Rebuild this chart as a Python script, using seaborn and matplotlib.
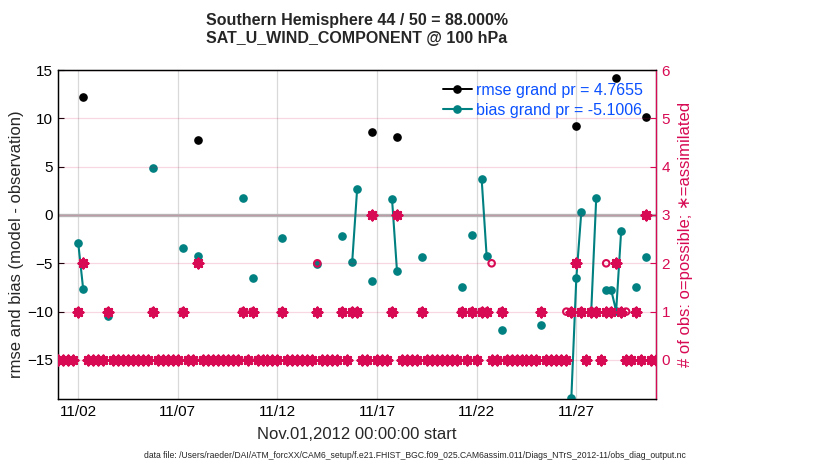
import numpy as np
import pandas as pd
import matplotlib
matplotlib.use("Agg")
import matplotlib.pyplot as plt
import matplotlib.dates as mdates
import seaborn as sns

# ---------------- data ----------------
obs_times = ["2012-11-02 00:00", "2012-11-02 06:00", "2012-11-03 12:00", "2012-11-05 18:00",
             "2012-11-07 06:00", "2012-11-08 00:00", "2012-11-10 06:00", "2012-11-10 18:00",
             "2012-11-12 06:00", "2012-11-14 00:00", "2012-11-15 06:00", "2012-11-15 18:00",
             "2012-11-16 00:00", "2012-11-16 18:00", "2012-11-17 18:00", "2012-11-18 00:00",
             "2012-11-19 06:00", "2012-11-21 06:00", "2012-11-21 18:00", "2012-11-22 06:00",
             "2012-11-22 12:00", "2012-11-22 18:00", "2012-11-23 06:00", "2012-11-25 06:00",
             "2012-11-26 12:00", "2012-11-26 18:00", "2012-11-27 00:00", "2012-11-27 06:00",
             "2012-11-27 18:00", "2012-11-28 00:00", "2012-11-28 12:00", "2012-11-28 18:00",
             "2012-11-29 00:00", "2012-11-29 06:00", "2012-11-29 12:00", "2012-11-30 00:00",
             "2012-11-30 12:00"]
n_possible = [1, 2, 1, 1, 1, 2, 1, 1, 1, 2, 1, 1, 1, 3, 1, 3, 1, 1, 1, 1, 1, 2, 1, 1,
              1, 1, 2, 1, 1, 1, 2, 1, 2, 1, 1, 1, 3]
n_used = [1, 2, 1, 1, 1, 2, 1, 1, 1, 1, 1, 1, 1, 3, 1, 3, 1, 1, 1, 1, 1, 0, 1, 1,
          0, 1, 2, 1, 1, 1, 1, 1, 2, 1, 0, 1, 3]
nan = np.nan
bias = [-2.9, -7.69, -10.4, 4.83, -3.45, -4.27, 1.72, -6.55, -2.41, -5.1, -2.17, -4.9,
        2.69, -6.86, 1.66, -5.8, -4.38, -7.48, -2.1, 3.69, -4.27, nan, -11.9, -11.38,
        nan, -18.97, -6.55, 0.28, -9.93, 1.76, -7.76, -7.76, -9.93, -1.7, nan, -7.41, -4.38]
rmse = [nan, 12.17, nan, nan, nan, 7.72, nan, nan, nan, nan, nan, nan,
        nan, 8.59, nan, 8.04, nan, nan, nan, nan, nan, nan, nan, nan,
        nan, nan, 9.24, nan, nan, nan, nan, nan, 14.14, nan, nan, nan, 10.17]

start_time = "2012-11-01 00:00"
end_time = "2012-12-01 00:00"
tick_dates = ["2012-11-02", "2012-11-07", "2012-11-12", "2012-11-17", "2012-11-22", "2012-11-27"]
left_ticks = [-15, -10, -5, 0, 5, 10, 15]
right_ticks = [0, 1, 2, 3, 4, 5, 6]

rmse_label = "rmse grand pr = 4.7655"
bias_label = "bias grand pr = -5.1006"
title1 = "Southern Hemisphere 44 / 50 = 88.000%"
title2 = "SAT_U_WIND_COMPONENT @ 100 hPa"
ylabel_left = "rmse and bias (model - observation)"
ylabel_right = "# of obs: o=possible; \u2217=assimilated"
xlabel = "Nov.01,2012 00:00:00 start"
datafile = ("data file: /Users/raeder/DAI/ATM_forcXX/CAM6_setup/f.e21.FHIST_BGC.f09_025."
            "CAM6assim.011/Diags_NTrS_2012-11/obs_diag_output.nc")

# ---------------- table ----------------
bins = pd.date_range(start_time, end_time, freq="6h")
obs = pd.DataFrame({"nposs": n_possible, "nused": n_used, "bias": bias, "rmse": rmse},
                   index=pd.to_datetime(obs_times))
df = pd.DataFrame(index=bins)
df = df.join(obs)
df["nposs"] = df["nposs"].fillna(0)
df["nused"] = df["nused"].fillna(0)
df = df.reset_index().rename(columns={"index": "time"})

# ---------------- style ----------------
sns.set_style("white")
plt.rcParams["font.family"] = ["Liberation Sans", "DejaVu Sans"]

TEAL = "#008080"
CRIM = "#D70A53"
BLUE = "#0a50ff"

W, H = 830, 470
AX_L, AX_R, AX_T, AX_B = 58.3, 656.0, 70.0, 399.3
fig = plt.figure(figsize=(8.3, 4.7), dpi=100)
ax = fig.add_axes([AX_L / W, 1 - AX_B / H, (AX_R - AX_L) / W, (AX_B - AX_T) / H])

ylo, yhi = -19.07, 15.0
ax.set_ylim(ylo, yhi)
ax.set_xlim(pd.Timestamp(start_time), pd.Timestamp(end_time))

ax.axhline(0, color="#b8b8b8", lw=2.4, zorder=1)

h_rmse, = ax.plot(df["time"], df["rmse"], color="black", marker="o", ms=5.2, lw=1.4,
                  label=rmse_label, zorder=3)
h_bias, = ax.plot(df["time"], df["bias"], color=TEAL, marker="o", ms=5.2, lw=1.5,
                  label=bias_label, zorder=3)

ax.set_xticks(pd.to_datetime(tick_dates))
ax.xaxis.set_major_formatter(mdates.DateFormatter("%m/%d"))
ax.set_yticks(left_ticks)
ax.tick_params(axis="both", direction="in", length=4, labelsize=11, colors="black", pad=4)
ax.grid(axis="x", color="#d9d9d9", lw=0.9)
ax.grid(axis="y", visible=False)
for s in ax.spines.values():
    s.set_color("black")
    s.set_linewidth(0.9)

ax.set_ylabel(ylabel_left, fontsize=12)
ax.yaxis.set_label_coords((24 - AX_L) / (AX_R - AX_L), 0.47)
ax.set_xlabel(xlabel, fontsize=12)
ax.xaxis.set_label_coords(0.5, -(427 - AX_B) / (AX_B - AX_T))

# ---------------- counts on right axis ----------------
ax2 = ax.twinx()
ax2.set_ylim((ylo + 15) / 5, (yhi + 15) / 5)
sns.scatterplot(data=df, x="time", y="nposs", ax=ax2, marker="o", s=22,
                facecolor="none", edgecolor=CRIM, linewidth=1.5, zorder=4, legend=False)
sns.scatterplot(data=df, x="time", y="nused", ax=ax2, marker=(8, 2, 0), s=44,
                color=CRIM, linewidth=2.0, zorder=5, legend=False)
ax2.set_xlim(pd.Timestamp(start_time), pd.Timestamp(end_time))
ax2.set_yticks(right_ticks)
ax2.tick_params(axis="y", direction="in", length=4, labelsize=11, colors=CRIM, pad=4)
ax2.grid(axis="y", color=CRIM, alpha=0.16, lw=0.9)
ax2.grid(axis="x", visible=False)
for k in ("left", "top", "bottom"):
    ax2.spines[k].set_color("black")
    ax2.spines[k].set_linewidth(0.9)
ax2.spines["right"].set_color(CRIM)
ax2.spines["right"].set_linewidth(0.9)
ax2.set_xlabel("")
ax2.set_ylabel(ylabel_right, fontsize=12, color=CRIM, rotation=90)
ax2.yaxis.set_label_coords((678 - AX_L) / (AX_R - AX_L), 0.5)

# ---------------- legend (on top axes) ----------------
leg = ax2.legend([h_rmse, h_bias], [rmse_label, bias_label],
                 loc="upper left", bbox_to_anchor=(443 / W, 1 - 83 / H),
                 bbox_transform=fig.transFigure, frameon=False, fontsize=11.5,
                 handlelength=1.8, handletextpad=0.25, labelspacing=0.3,
                 borderpad=0, borderaxespad=0, labelcolor=BLUE, numpoints=1)
leg.set_zorder(10)

# ---------------- titles / annotation ----------------
fig.text(357 / W, 1 - 20 / H, title1, ha="center", va="center", fontsize=11.5, fontweight="bold")
fig.text(357 / W, 1 - 39 / H, title2, ha="center", va="center", fontsize=11.5, fontweight="bold")
fig.text(415 / W, 1 - 456 / H, datafile, ha="center", va="center", fontsize=6.2)

fig.savefig("out.png", dpi=100)
